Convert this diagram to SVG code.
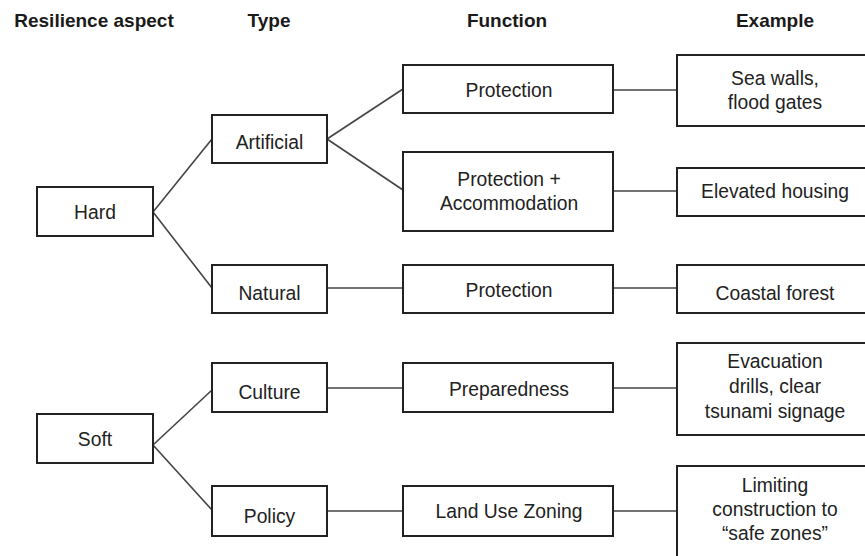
<svg xmlns="http://www.w3.org/2000/svg" width="865" height="556" viewBox="0 0 865 556">
  <style>
    .box { fill: #ffffff; stroke: #222222; stroke-width: 2; }
    .hdr { font-family: "Liberation Sans", Arial, sans-serif; font-size: 19px; font-weight: bold; fill: #1a1a1a; text-anchor: middle; }
    .lbl { font-family: "Liberation Sans", Arial, sans-serif; font-size: 19.3px; fill: #222222; text-anchor: middle; }
    .conn line { stroke: #444444; stroke-width: 1.6; }
  </style>
  <rect width="865" height="556" fill="#ffffff"/>

  <g id="headers">
    <text class="hdr" x="94" y="27">Resilience aspect</text>
    <text class="hdr" x="269" y="27">Type</text>
    <text class="hdr" x="507" y="27">Function</text>
    <text class="hdr" x="775" y="27">Example</text>
  </g>

  <g id="connectors" class="conn">
    <line x1="153" y1="212" x2="212" y2="139"/>
    <line x1="153" y1="212" x2="212" y2="288"/>
    <line x1="327" y1="139" x2="403" y2="89"/>
    <line x1="327" y1="139" x2="403" y2="190"/>
    <line x1="327" y1="288" x2="403" y2="288"/>
    <line x1="613" y1="90" x2="677" y2="90"/>
    <line x1="613" y1="191" x2="677" y2="191"/>
    <line x1="613" y1="288" x2="677" y2="288"/>
    <line x1="153" y1="445" x2="212" y2="390"/>
    <line x1="153" y1="445" x2="212" y2="510"/>
    <line x1="327" y1="388" x2="403" y2="388"/>
    <line x1="327" y1="511" x2="403" y2="511"/>
    <line x1="613" y1="388" x2="677" y2="388"/>
    <line x1="613" y1="511" x2="677" y2="511"/>
  </g>

  <g id="hard">
    <rect class="box" x="37" y="187" width="116" height="49"/>
    <text class="lbl" x="95" y="219">Hard</text>
  </g>
  <g id="soft">
    <rect class="box" x="37" y="414" width="116" height="49"/>
    <text class="lbl" x="95" y="446">Soft</text>
  </g>

  <g id="artificial">
    <rect class="box" x="212" y="115" width="115" height="48"/>
    <text class="lbl" x="269.5" y="149">Artificial</text>
  </g>
  <g id="natural">
    <rect class="box" x="212" y="265" width="115" height="48"/>
    <text class="lbl" x="269.5" y="300">Natural</text>
  </g>
  <g id="culture">
    <rect class="box" x="212" y="363" width="115" height="49"/>
    <text class="lbl" x="269.5" y="399">Culture</text>
  </g>
  <g id="policy">
    <rect class="box" x="212" y="486" width="115" height="50"/>
    <text class="lbl" x="269.5" y="523">Policy</text>
  </g>

  <g id="protection1">
    <rect class="box" x="403" y="65" width="210" height="48"/>
    <text class="lbl" x="509" y="97">Protection</text>
  </g>
  <g id="protection-accommodation">
    <rect class="box" x="403" y="152" width="210" height="79"/>
    <text class="lbl" x="509" y="186">Protection +</text>
    <text class="lbl" x="509" y="210">Accommodation</text>
  </g>
  <g id="protection2">
    <rect class="box" x="403" y="265" width="210" height="48"/>
    <text class="lbl" x="509" y="297">Protection</text>
  </g>
  <g id="preparedness">
    <rect class="box" x="403" y="363" width="210" height="49"/>
    <text class="lbl" x="509" y="396">Preparedness</text>
  </g>
  <g id="landuse">
    <rect class="box" x="403" y="486" width="210" height="50"/>
    <text class="lbl" x="509" y="518">Land Use Zoning</text>
  </g>

  <g id="seawalls">
    <rect class="box" x="677" y="55" width="200" height="71"/>
    <text class="lbl" x="775" y="85">Sea walls,</text>
    <text class="lbl" x="775" y="109">flood gates</text>
  </g>
  <g id="elevated">
    <rect class="box" x="677" y="168" width="200" height="48"/>
    <text class="lbl" x="775" y="198">Elevated housing</text>
  </g>
  <g id="coastal">
    <rect class="box" x="677" y="265" width="200" height="48"/>
    <text class="lbl" x="775" y="300">Coastal forest</text>
  </g>
  <g id="evacuation">
    <rect class="box" x="677" y="343" width="200" height="92"/>
    <text class="lbl" x="775" y="368">Evacuation</text>
    <text class="lbl" x="775" y="393">drills, clear</text>
    <text class="lbl" x="775" y="418">tsunami signage</text>
  </g>
  <g id="limiting">
    <rect class="box" x="677" y="466" width="200" height="110"/>
    <text class="lbl" x="775" y="492">Limiting</text>
    <text class="lbl" x="775" y="516">construction to</text>
    <text class="lbl" x="775" y="540">“safe zones”</text>
  </g>
</svg>
